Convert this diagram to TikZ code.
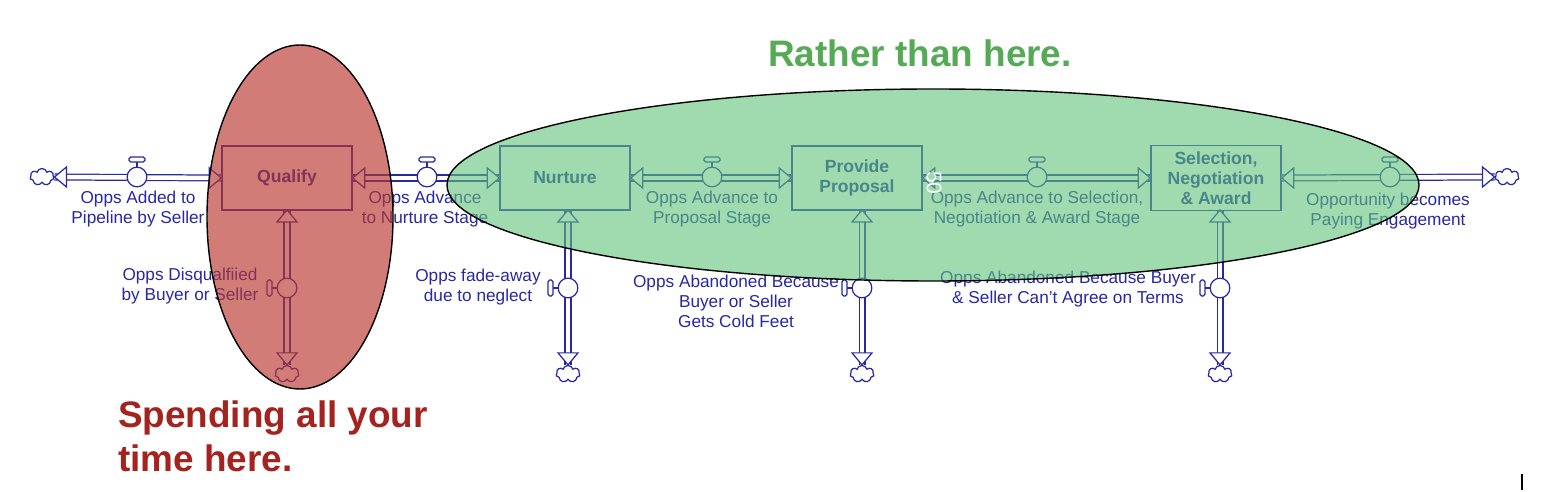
\documentclass[tikz,border=0pt]{standalone}
\usepackage{fontspec}
\setmainfont{Liberation Sans}
\usetikzlibrary{shapes.symbols}
\definecolor{fb}{RGB}{40,40,165}
\definecolor{redE}{RGB}{185,55,45}
\definecolor{greenE}{RGB}{95,195,120}
\definecolor{greenT}{RGB}{85,170,85}
\definecolor{redT}{RGB}{165,35,30}
\tikzset{
 stock/.style={draw=fb,line width=0.8pt,fill=white,minimum width=2.6cm,minimum height=1.28cm,text=fb,font=\bfseries\fontsize{10}{11.5}\selectfont,align=center},
 pipe/.style={draw=fb,line width=0.7pt,double=white,double distance=2.6pt},
 lbl/.style={text=fb,font=\fontsize{9.8}{11.3}\selectfont,align=center},
 sink/.style={cloud,cloud puffs=7,draw=fb,line width=0.7pt,fill=white,minimum width=0.48cm,minimum height=0.34cm,inner sep=0pt},
 head/.pic={\draw[fb,line width=0.7pt,fill=white] (0,0) -- (-12,10) -- (-12,-10) -- cycle;},
 valveh/.pic={\draw[fb,line width=0.7pt,fill=white] (0,-10)--(0,-16); \draw[fb,line width=0.7pt,fill=white,rounded corners=1pt] (-8,-15) rectangle (8,-20); \draw[fb,line width=0.7pt,fill=white] (0,0) circle[radius=5.6pt];},
 valvev/.pic={\draw[fb,line width=0.7pt,fill=white] (-10,0)--(-16,0); \draw[fb,line width=0.7pt,fill=white,rounded corners=1pt] (-15,-8) rectangle (-20,8); \draw[fb,line width=0.7pt,fill=white] (0,0) circle[radius=5.6pt];}
}
\begin{document}
\begin{tikzpicture}[x=0.02cm,y=-0.02cm]
\useasboundingbox[fill=white] (0,0) rectangle (1550,492);
% stocks
\node[stock] (q) at (287,178) {Qualify};
\node[stock] (n) at (565,178) {Nurture};
\node[stock] (p) at (857,178) {Provide\\Proposal};
\node[stock] (s) at (1216,178) {Selection,\\Negotiation\\\& Award};
% clouds
\node[sink] (cl) at (42,177) {};
\node[sink] (cr) at (1507,177) {};
\node[sink] (c1) at (287,374) {};
\node[sink] (c2) at (568,374) {};
\node[sink] (c3) at (862,374) {};
\node[sink] (c4) at (1220,374) {};
% horizontal pipes
\draw[pipe] (cl.east) -- (q.west);
\draw[pipe] (q.east) -- (n.west);
\draw[pipe] (n.east) -- (p.west);
\draw[pipe] (p.east) -- (s.west);
\draw[pipe] (s.east) -- (cr.west);
\pic[rotate=180] at (cl.east) {head};
\pic at (q.west) {head};
\pic[rotate=180] at (q.east) {head};
\pic at (n.west) {head};
\pic[rotate=180] at (n.east) {head};
\pic at (p.west) {head};
\pic[rotate=180] at (p.east) {head};
\pic at (s.west) {head};
\pic[rotate=180] at (s.east) {head};
\pic at (cr.west) {head};
\pic at (137,177) {valveh};
\pic at (427,177) {valveh};
\pic at (712,177) {valveh};
\pic at (1037,177) {valveh};
\pic at (1390,177) {valveh};
% vertical pipes
\draw[pipe] (q.south) -- (c1.north);
\draw[pipe] (q.south -| c2) -- (c2.north);
\draw[pipe] (p.south -| c3) -- (c3.north);
\draw[pipe] (s.south -| c4) -- (c4.north);
\foreach \c/\v in {c1/287,c2/568,c3/862,c4/1220}{
 \pic[rotate=90] at (\v,210) {head};
 \pic[rotate=-90] at (\c.north) {head};
 \pic at (\v,288) {valvev};
}
% labels
\node[lbl] (l1) at (138,209) {Opps Added to\\Pipeline by Seller};
\node[lbl] (l2) at (425,209) {Opps Advance\\to Nurture Stage};
\node[lbl] (l3) at (712,209) {Opps Advance to\\Proposal Stage};
\node[lbl] (l4) at (1037,209) {Opps Advance to Selection,\\Negotiation \& Award Stage};
\node[lbl] (l5) at (1388,211) {Opportunity becomes\\Paying Engagement};
\node[lbl] (l6) at (190,286) {Opps Disqualfiied\\by Buyer or Seller};
\node[lbl] (l7) at (478,287) {Opps fade-away\\due to neglect};
\node[lbl] (l8) at (736,301) {Opps Abandoned Because\\Buyer or Seller\\Gets Cold Feet};
\node[lbl] (l9) at (1068,289) {Opps Abandoned Because Buyer\\\& Seller Can't Agree on Terms};
% ellipses
\draw[black,line width=0.8pt,fill=redE,fill opacity=0.65] (300,217) ellipse[x radius=93,y radius=172];
\draw[black,line width=0.8pt,fill=greenE,fill opacity=0.6] (933,185) ellipse[x radius=486,y radius=96];
\node[white,rotate=-90,font=\fontsize{12}{12}\selectfont] (fifty) at (934,183) {50};
% titles
\node[text=greenT,font=\bfseries\fontsize{21}{24}\selectfont] (t1) at (920,53) {Rather than here.};
\node[text=redT,font=\bfseries\fontsize{21}{25}\selectfont,align=left,anchor=north west] (t2) at (112,395) {Spending all your\\time here.};
\coordinate (m1) at (1522,474);
\coordinate (m2) at (1522,490);
\draw[black,line width=0.8pt] (m1) -- (m2);
\end{tikzpicture}
\end{document}
